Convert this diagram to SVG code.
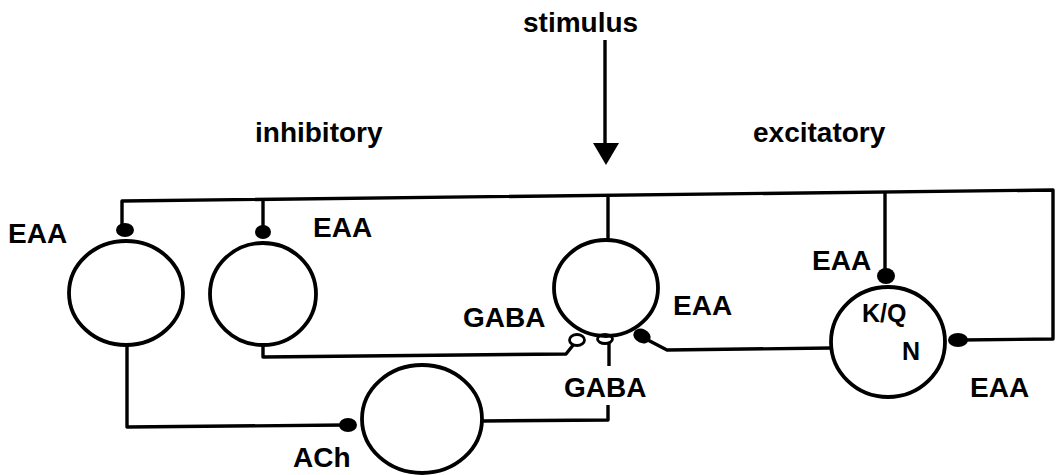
<svg xmlns="http://www.w3.org/2000/svg" width="1063" height="475" viewBox="0 0 1063 475">
<style>
text{font-family:"Liberation Sans",Arial,sans-serif;font-weight:bold;font-size:28px;fill:#000}
.small{font-size:25px}
.cell{fill:none;stroke:#000;stroke-width:3.8}
.wire{fill:none;stroke:#000;stroke-width:3.4;stroke-linejoin:round}
.exc{fill:#000;stroke:none}
.inh{fill:#fff;stroke:#000;stroke-width:2.8}
</style>
<rect width="1063" height="475" fill="#fff"/>
<text x="523" y="32">stimulus</text>
<text x="255" y="142">inhibitory</text>
<text x="753" y="142">excitatory</text>
<g id="connectors">
<line class="wire" x1="605" y1="40" x2="605" y2="148"/>
<path d="M593,143 L619,143 L606,165 Z" fill="#000"/>
<path class="wire" d="M122,226 L122,201 L1053,190 L1053,339 L960,340"/>
<line class="wire" x1="263" y1="200" x2="263" y2="228"/>
<line class="wire" x1="608" y1="197" x2="608" y2="240"/>
<line class="wire" x1="885" y1="192" x2="885" y2="272"/>
<path class="wire" d="M263,345 L263,357 L566,354 L574,344"/>
<line class="wire" x1="609" y1="343" x2="609" y2="366"/>
<path class="wire" d="M608,405 L608,420 L482,421"/>
<path class="wire" d="M127,345 L127,427 L345,425"/>
<path class="wire" d="M832,348 L667,350 L644,338"/>
<ellipse class="exc" cx="125" cy="230" rx="9" ry="7"/>
<ellipse class="exc" cx="263" cy="232" rx="8" ry="7"/>
<ellipse class="exc" cx="886" cy="276" rx="9" ry="8"/>
<ellipse class="exc" cx="958" cy="340" rx="10" ry="7"/>
<ellipse class="exc" cx="348" cy="425" rx="9" ry="7"/>
<ellipse class="exc" cx="642" cy="336" rx="9" ry="7" transform="rotate(25 642 336)"/>
<ellipse class="inh" cx="577" cy="340" rx="7.5" ry="5.5"/>
<ellipse class="inh" cx="605" cy="339" rx="7.5" ry="4.5"/>
</g>
<g id="cell1"><ellipse class="cell" cx="126" cy="293" rx="57" ry="52"/><text x="8" y="243">EAA</text></g>
<g id="cell2"><ellipse class="cell" cx="263" cy="294" rx="53" ry="51"/><text x="313" y="237">EAA</text></g>
<g id="cell3"><ellipse class="cell" cx="606" cy="288" rx="52" ry="48"/>
<text x="463" y="327">GABA</text><text x="673" y="315">EAA</text><text x="564" y="397">GABA</text></g>
<g id="cell4"><ellipse class="cell" cx="422" cy="419" rx="60" ry="54"/><text x="293" y="467">ACh</text></g>
<g id="cell5"><ellipse class="cell" cx="888" cy="342" rx="57" ry="55"/>
<text x="812" y="270">EAA</text><text class="small" x="862" y="322">K/Q</text><text class="small" x="902" y="360">N</text><text x="970" y="397">EAA</text></g>
</svg>
